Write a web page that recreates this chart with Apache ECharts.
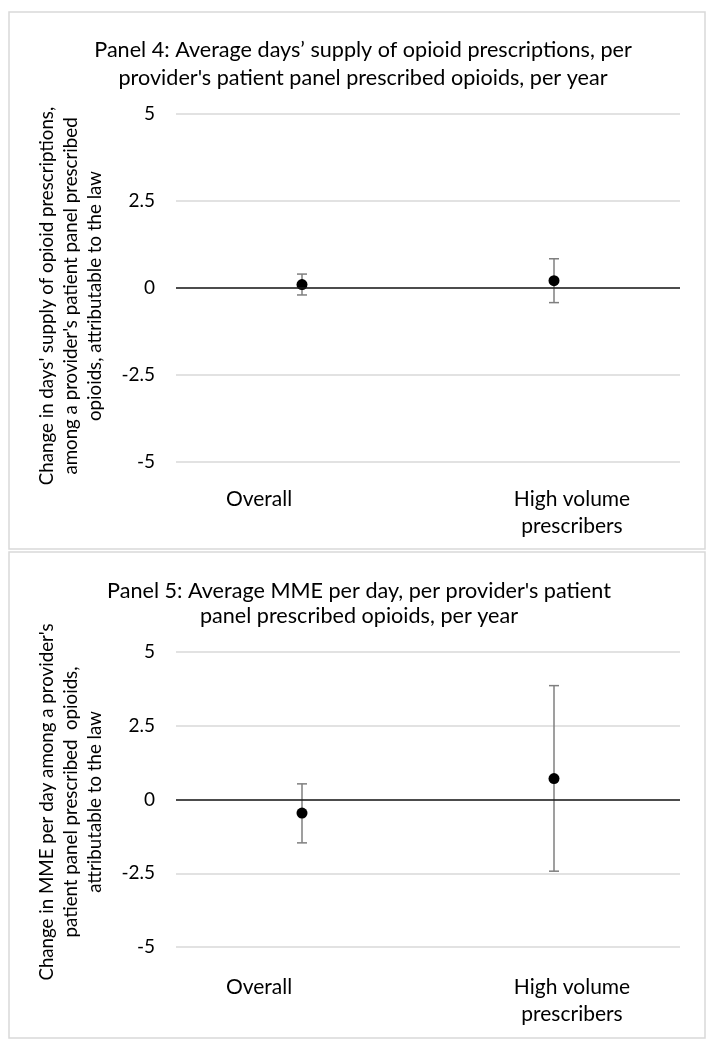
<!DOCTYPE html>
<html><head><meta charset="utf-8">
<script src="https://cdn.jsdelivr.net/npm/echarts@6/dist/echarts.min.js"></script>
<style>html,body{margin:0;padding:0;background:#fff}#c{width:718px;height:1050px}</style>
</head><body><div id="c"></div>
<script>
const categories = ['Overall', 'High volume prescribers'];
const yTicks = [-5, -2.5, 0, 2.5, 5];
// Panel 4: days' supply
const p4Est = [0.10, 0.21];
const p4Low = [-0.20, -0.42];
const p4High = [0.40, 0.84];
// Panel 5: MME per day
const p5Est = [-0.46, 0.71];
const p5Low = [-1.47, -2.43];
const p5High = [0.53, 3.86];

const p4YTitle = 'Change in days\' supply of opioid prescriptions,\namong a provider\'s patient panel prescribed\nopioids, attributable to the law';
const p5YTitle = 'Change in MME per day among a provider\'s\npatient panel prescribed  opioids,\nattributable to the law';

const FONT = 'Lato';
const chart = echarts.init(document.getElementById('c'), null, {renderer: 'canvas'});

function errSeries(idx, low, high) {
  return {
    type: 'custom', xAxisIndex: idx, yAxisIndex: idx, silent: true, z: 3,
    data: categories.map((c, i) => [i, low[i], high[i]]),
    renderItem: function (params, api) {
      const lo = api.coord([api.value(0), api.value(1)]);
      const hi = api.coord([api.value(0), api.value(2)]);
      const w = 5;
      const st = {stroke: '#7f7f7f', lineWidth: 1.5};
      return {type: 'group', children: [
        {type: 'line', shape: {x1: lo[0], y1: lo[1], x2: hi[0], y2: hi[1]}, style: st},
        {type: 'line', shape: {x1: lo[0] - w, y1: lo[1], x2: lo[0] + w, y2: lo[1]}, style: st},
        {type: 'line', shape: {x1: hi[0] - w, y1: hi[1], x2: hi[0] + w, y2: hi[1]}, style: st}
      ]};
    }
  };
}
function dotSeries(idx, est) {
  return {
    type: 'scatter', xAxisIndex: idx, yAxisIndex: idx, silent: true, z: 4,
    symbol: 'circle', symbolSize: 11, itemStyle: {color: '#000', opacity: 1},
    data: categories.map((c, i) => [i, est[i]]),
    markLine: {silent: true, symbol: 'none', label: {show: false},
      lineStyle: {color: '#1a1a1a', width: 1.5, type: 'solid'}, data: [{yAxis: 0}]}
  };
}
function xAxis(idx) {
  const fs = 21;
  return {
    type: 'category', gridIndex: idx, data: categories, boundaryGap: true,
    axisLine: {show: false}, axisTick: {show: false}, splitLine: {show: false},
    axisLabel: {
      margin: idx === 0 ? 24 : 27, color: '#000', fontFamily: FONT, fontSize: fs, lineHeight: 27,
      interval: 0,
      formatter: function (v, i) {
        return i === 0 ? '{a|Overall}' : '{b|High volume}\n{b|prescribers}';
      },
      rich: {
        a: {padding: [0, 86, 0, 0], fontFamily: FONT, fontSize: fs, lineHeight: 27, color: '#000'},
        b: {padding: [0, 0, 0, 36], fontFamily: FONT, fontSize: fs, lineHeight: 27, color: '#000'}
      }
    }
  };
}
function yAxis(idx) {
  return {
    type: 'value', gridIndex: idx, min: -5, max: 5, interval: 2.5,
    axisLine: {show: false}, axisTick: {show: false},
    splitLine: {lineStyle: {color: '#d9d9d9', width: 1.5}},
    axisLabel: {color: '#000', fontFamily: FONT, fontSize: 19, margin: 21,
      formatter: v => (yTicks.includes(v) ? String(v) : '')}
  };
}
function yTitle(text, cx, cy) {
  return {type: 'text', x: cx, y: cy, rotation: Math.PI / 2, silent: true,
    style: {text: text, fill: '#000', font: '18.7px ' + FONT, align: 'center', verticalAlign: 'middle', lineHeight: 24}};
}

chart.setOption({
  animation: false,
  backgroundColor: '#fff',
  title: [
    {text: 'Panel 4: Average days\u2019 supply of opioid prescriptions, per\nprovider\'s patient panel prescribed opioids, per year',
      left: 358, top: 31, textAlign: 'center',
      textStyle: {fontFamily: FONT, fontSize: 21.6, fontWeight: 'normal', color: '#000', lineHeight: 28}},
    {text: 'Panel 5: Average MME per day, per provider\'s patient\npanel prescribed opioids, per year',
      left: 354, top: 574, textAlign: 'center',
      textStyle: {fontFamily: FONT, fontSize: 21.6, fontWeight: 'normal', color: '#000', lineHeight: 25}}
  ],
  graphic: [
    {type: 'rect', shape: {x: 9, y: 12, width: 696, height: 537}, style: {fill: null, stroke: '#d9d9d9', lineWidth: 1.5}, silent: true},
    {type: 'rect', shape: {x: 9, y: 552, width: 696, height: 486}, style: {fill: null, stroke: '#d9d9d9', lineWidth: 1.5}, silent: true},
    yTitle(p4YTitle, 71, 296),
    yTitle(p5YTitle, 71, 802)
  ],
  grid: [
    {left: 176, right: 38, top: 114, height: 348},
    {left: 176, right: 38, top: 652, height: 295}
  ],
  xAxis: [xAxis(0), xAxis(1)],
  yAxis: [yAxis(0), yAxis(1)],
  series: [errSeries(0, p4Low, p4High), dotSeries(0, p4Est), errSeries(1, p5Low, p5High), dotSeries(1, p5Est)]
});
</script></body></html>
